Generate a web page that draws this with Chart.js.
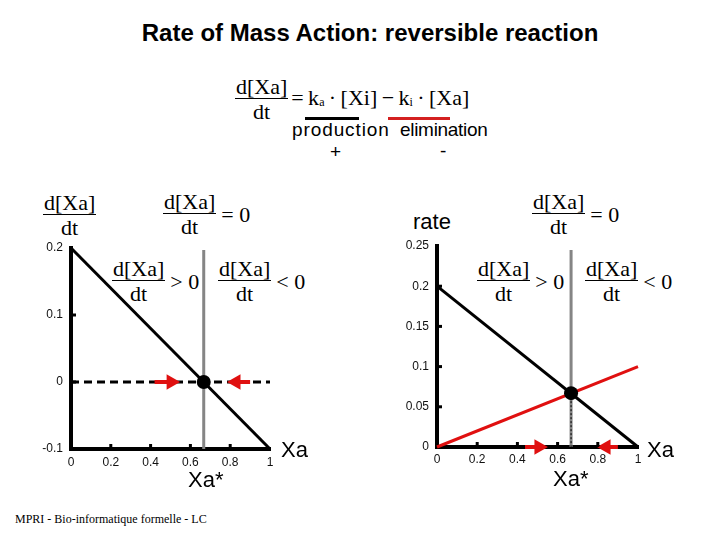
<!DOCTYPE html>
<html>
<head>
<meta charset="utf-8">
<script src="https://cdn.jsdelivr.net/npm/chart.js@4.4.0/dist/chart.umd.min.js"></script>
<style>
  body { margin: 0; width: 720px; height: 540px; background: #fff; position: relative; overflow: hidden;
         font-family: 'Liberation Sans', Arial, sans-serif; color: #000; }
  .abs { position: absolute; white-space: nowrap; }
  .sans { font-family: 'Liberation Sans', Arial, sans-serif; }
  .expr { position: absolute; display: flex; align-items: center; white-space: nowrap;
          font-family: 'Liberation Serif', 'Times New Roman', serif; font-size: 22px; line-height: 22px; }
  .frac { display: flex; flex-direction: column; text-align: center; }
  .frac .num { border-bottom: 1.5px solid #000; padding: 0 1px; }
  .frac .den { padding-top: 2px; }
  .rel { margin-left: 5px; }
  .sub { font-size: 12px; vertical-align: -1px; }
  .bar { position: absolute; height: 3px; }
  .box { position: absolute; }
</style>
</head>
<body>

<div class="abs sans" style="left:120px; width:500px; text-align:center; top:21px; font-size:24px; line-height:24px; font-weight:bold;">Rate of Mass Action: reversible reaction</div>

<!-- equation at the top -->
<div class="expr" style="left:235px; top:76px;">
  <div class="frac"><span class="num">d[Xa]</span><span class="den">dt</span></div>
  <span class="rel" style="margin-left:3px;">=&thinsp;k<span class="sub">a</span>&thinsp;·&thinsp;[Xi]&thinsp;−&thinsp;k<span class="sub">i</span>&thinsp;·&thinsp;[Xa]</span>
</div>
<div class="bar" style="left:305px; top:117px; width:54px; background:#000;"></div>
<div class="bar" style="left:388px; top:117px; width:62px; background:#d42020;"></div>
<div class="abs sans" style="left:292px; top:120px; font-size:19px; line-height:19px; letter-spacing:0.9px;">production</div>
<div class="abs sans" style="left:400px; top:120px; font-size:19px; line-height:19px; letter-spacing:-0.3px;">elimination</div>
<div class="abs sans" style="left:330px; top:142px; font-size:19px; line-height:19px;">+</div>
<div class="abs sans" style="left:440px; top:141px; font-size:19px; line-height:19px;">-</div>

<!-- left panel annotations -->
<div class="expr" style="left:43px; top:192px;">
  <div class="frac"><span class="num">d[Xa]</span><span class="den">dt</span></div>
</div>
<div class="expr" style="left:163px; top:191px;">
  <div class="frac"><span class="num">d[Xa]</span><span class="den">dt</span></div><span class="rel">= 0</span>
</div>
<div class="expr" style="left:112px; top:258px;">
  <div class="frac"><span class="num">d[Xa]</span><span class="den">dt</span></div><span class="rel">&gt; 0</span>
</div>
<div class="expr" style="left:218px; top:258px;">
  <div class="frac"><span class="num">d[Xa]</span><span class="den">dt</span></div><span class="rel">&lt; 0</span>
</div>

<!-- right panel annotations -->
<div class="abs sans" style="left:413px; top:211px; font-size:22px; line-height:22px;">rate</div>
<div class="expr" style="left:532px; top:191px;">
  <div class="frac"><span class="num">d[Xa]</span><span class="den">dt</span></div><span class="rel">= 0</span>
</div>
<div class="expr" style="left:477px; top:258px;">
  <div class="frac"><span class="num">d[Xa]</span><span class="den">dt</span></div><span class="rel">&gt; 0</span>
</div>
<div class="expr" style="left:585px; top:258px;">
  <div class="frac"><span class="num">d[Xa]</span><span class="den">dt</span></div><span class="rel">&lt; 0</span>
</div>

<div class="box" style="left:0px; top:230px; width:300px; height:250px;"><canvas id="leftChart" width="300" height="250"></canvas></div>
<div class="box" style="left:380px; top:230px; width:280px; height:250px;"><canvas id="rightChart" width="280" height="250"></canvas></div>

<div class="abs sans" style="left:281px; top:439px; font-size:22px; line-height:22px;">Xa</div>
<div class="abs sans" style="left:647px; top:439px; font-size:22px; line-height:22px;">Xa</div>
<div class="abs sans" style="left:188px; top:469px; font-size:22px; line-height:22px;">Xa*</div>
<div class="abs sans" style="left:553px; top:468px; font-size:22px; line-height:22px;">Xa*</div>

<div class="abs" style="left:15px; top:513px; font-family:'Liberation Serif','Times New Roman',serif; font-size:12px; line-height:12px;">MPRI - Bio-informatique formelle - LC</div>

<script>
// x range of the concentration Xa
const xRange = [0, 1];
// left panel: net rate d[Xa]/dt = ka[Xi] - ki[Xa]
const netRate = [0.2, -0.1];
const zeroLine = [0, 0];
// right panel: production (ka[Xi]) and elimination (ki[Xa])
const productionRate = [0.2, 0];
const eliminationRate = [0, 0.1];
// steady state
const xStar = 0.667;
const rateStar = 0.067;
const leftMarker = [0.197, -0.1];
const rightMarker = [0.245, 0];
// arrows along the axis: [tail, head]
const leftArrows = [[0.42, 0.503], [0.90, 0.829]];
const rightArrows = [[0.438, 0.507], [0.90, 0.841]];
// ticks
const xTicks = [0, 0.2, 0.4, 0.6, 0.8, 1];
const leftYTicks = [-0.1, 0, 0.1, 0.2];
const rightYTicks = [0, 0.05, 0.1, 0.15, 0.2, 0.25];

const RED = '#e01010';
const GRAY = '#858585';

// small tick marks pointing into the plot
const inwardTicks = {
  id: 'inwardTicks',
  afterDraw(chart) {
    const ctx = chart.ctx;
    const xs = chart.scales.x, ys = chart.scales.y;
    ctx.save();
    ctx.strokeStyle = '#000';
    ctx.lineWidth = 3;
    xs.ticks.forEach(t => {
      if (t.value <= xs.min || t.value >= xs.max) return;
      const px = xs.getPixelForValue(t.value);
      ctx.beginPath(); ctx.moveTo(px, xs.top); ctx.lineTo(px, xs.top - 5); ctx.stroke();
    });
    ys.ticks.forEach(t => {
      if (t.value <= ys.min || t.value >= ys.max) return;
      const py = ys.getPixelForValue(t.value);
      ctx.beginPath(); ctx.moveTo(ys.right, py); ctx.lineTo(ys.right + 5, py); ctx.stroke();
    });
    ctx.restore();
  }
};

function pts(xs, ys) {
  return xs.map((x, i) => ({ x: x, y: ys[i] }));
}

function arrowDataset(arrow, y, dir) {
  return {
    data: pts(arrow, [y, y]),
    showLine: true,
    borderColor: RED,
    borderWidth: 4,
    pointStyle: 'triangle',
    pointRadius: [0, 9],
    pointRotation: dir,
    pointBackgroundColor: RED,
    pointBorderWidth: 0,
    clip: false,
    order: 1
  };
}

function scalesFor(yMin, yMax, yTicks, yWidth, yPad, xPad) {
  const tickFont = { family: "'Liberation Sans', Arial, sans-serif", size: 12 };
  return {
    x: {
      type: 'linear', min: xRange[0], max: xRange[1],
      afterBuildTicks: s => { s.ticks = xTicks.map(v => ({ value: v })); },
      afterFit: s => { s.height = 25; },
      grid: { display: false, drawTicks: false },
      border: { display: true, color: '#000', width: 4 },
      ticks: { font: tickFont, color: '#111', padding: xPad, maxRotation: 0, callback: v => String(v) }
    },
    y: {
      type: 'linear', min: yMin, max: yMax,
      afterBuildTicks: s => { s.ticks = yTicks.map(v => ({ value: v })); },
      afterFit: s => { s.width = yWidth; },
      grid: { display: false, drawTicks: false },
      border: { display: true, color: '#000', width: 4 },
      ticks: { font: tickFont, color: '#111', padding: yPad, callback: v => String(v) }
    }
  };
}

const baseOptions = {
  responsive: false,
  animation: false,
  plugins: { legend: { display: false }, tooltip: { enabled: false } },
};

new Chart(document.getElementById('leftChart'), {
  type: 'scatter',
  data: {
    datasets: [
      { data: [{ x: xStar, y: 0 }], pointRadius: 7, pointBackgroundColor: '#000', pointBorderWidth: 0, clip: false, order: 0 },
      arrowDataset(leftArrows[0], 0, 90),
      arrowDataset(leftArrows[1], 0, -90),
      { data: pts(xRange, netRate), showLine: true, borderColor: '#000', borderWidth: 3, pointRadius: 0, clip: false, order: 2 },
      { data: pts(xRange, zeroLine), showLine: true, borderColor: '#000', borderWidth: 3, borderDash: [8, 5], pointRadius: 0, clip: false, order: 3 },
      { data: pts([xStar, xStar], leftMarker), showLine: true, borderColor: GRAY, borderWidth: 3, pointRadius: 0, clip: false, order: 4 }
    ]
  },
  options: Object.assign({}, baseOptions, {
    layout: { padding: { left: 0, top: 18, right: 30, bottom: 6 } },
    scales: scalesFor(leftYTicks[0], leftYTicks[leftYTicks.length - 1], leftYTicks, 71, 8, 6)
  }),
  plugins: [inwardTicks]
});

new Chart(document.getElementById('rightChart'), {
  type: 'scatter',
  data: {
    datasets: [
      { data: [{ x: xStar, y: rateStar }], pointRadius: 7, pointBackgroundColor: '#000', pointBorderWidth: 0, clip: false, order: 0 },
      arrowDataset(rightArrows[0], 0, 90),
      arrowDataset(rightArrows[1], 0, -90),
      { data: pts(xRange, productionRate), showLine: true, borderColor: '#000', borderWidth: 3, pointRadius: 0, clip: false, order: 2 },
      { data: pts(xRange, eliminationRate), showLine: true, borderColor: RED, borderWidth: 3, pointRadius: 0, clip: false, order: 2 },
      { data: pts([xStar, xStar], [rateStar, 0]), showLine: true, borderColor: '#000', borderWidth: 1, borderDash: [2, 2], pointRadius: 0, clip: false, order: 3 },
      { data: pts([xStar, xStar], rightMarker), showLine: true, borderColor: GRAY, borderWidth: 3, pointRadius: 0, clip: false, order: 4 }
    ]
  },
  options: Object.assign({}, baseOptions, {
    layout: { padding: { left: 0, top: 16, right: 22, bottom: 8 } },
    scales: scalesFor(rightYTicks[0], rightYTicks[rightYTicks.length - 1], rightYTicks, 57, 8, 5)
  }),
  plugins: [inwardTicks]
});
</script>
</body>
</html>
